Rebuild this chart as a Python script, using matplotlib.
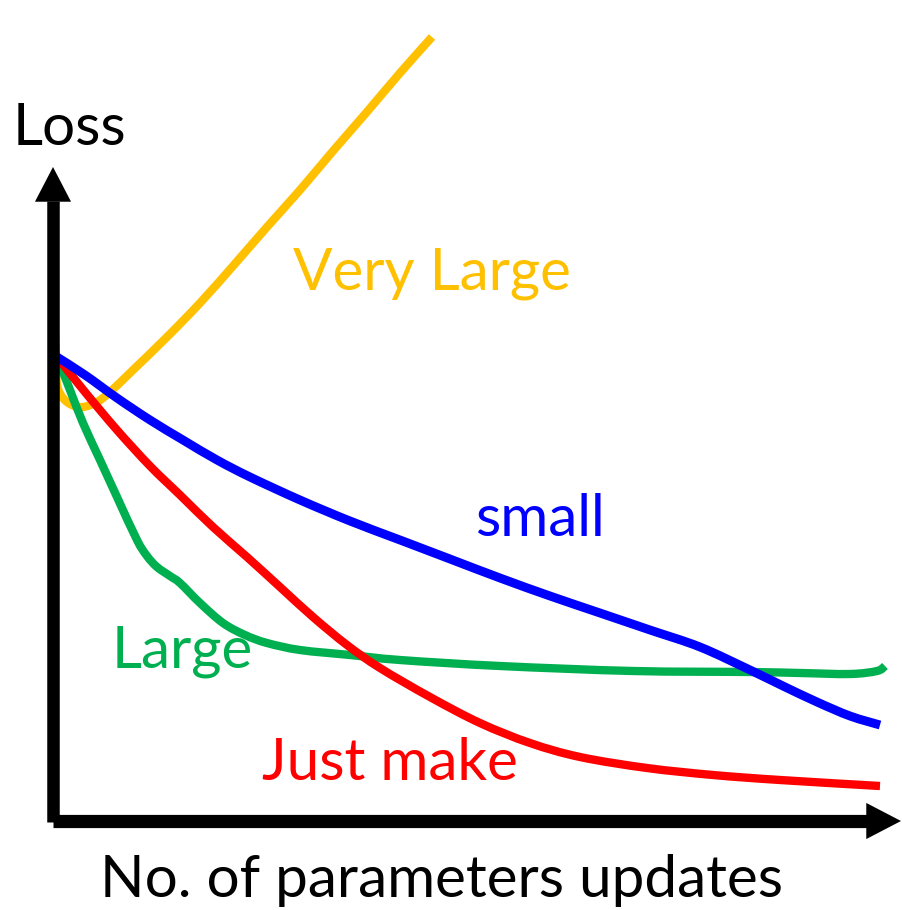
"""
Hand-drawn style sketch: loss vs. number of parameter updates
for different learning rates.
"""

import matplotlib
matplotlib.use("Agg")
import matplotlib.pyplot as plt
from matplotlib.path import Path
from matplotlib.patches import PathPatch

# Curves (x = updates, y = loss, arbitrary units)
very_large_x = [2, 3, 4, 10, 19, 30, 44, 57, 80, 114, 147, 180, 214, 247, 280, 313, 347, 379]
very_large_y = [488, 461, 436, 423, 416, 414, 419, 429, 451, 484, 518, 555, 594, 631, 670, 708, 748, 784]

small_x = [4, 32, 64, 97, 130, 164, 197, 247, 297, 347, 397, 447, 497, 547, 597, 647, 697, 730, 764, 797, 827]
small_y = [464, 446, 423, 401, 381, 361, 344, 321, 300, 281, 262, 243, 225, 208, 191, 174, 151, 135, 119, 105, 96]

just_x = [4, 32, 64, 97, 127, 160, 194, 227, 260, 294, 327, 377, 427, 477, 527, 594, 660, 727, 827]
just_y = [464, 429, 391, 355, 326, 294, 264, 234, 204, 176, 153, 124, 98, 78, 64, 53, 46, 41, 35]

large_x = [4, 17, 30, 47, 64, 84, 94, 104, 117, 127, 147, 170, 192, 214, 247, 297, 347, 447, 580, 697, 747, 797, 824, 832]
large_y = [464, 431, 398, 361, 324, 281, 265, 254, 245, 238, 218, 198, 186, 178, 171, 166, 161, 155, 150, 149, 148, 147, 150, 155]

YELLOW = "#FFC000"
BLUE = "#0000FF"
RED = "#FF0000"
GREEN = "#00B050"

W, H = 903, 910
OX, OY = 53, 821  # pixel position of the origin


def smooth_path(xs, ys):
    """Bezier path through every point (Catmull-Rom tangents)."""
    pts = list(zip(xs, ys))
    verts = [pts[0]]
    codes = [Path.MOVETO]
    for i in range(len(pts) - 1):
        p0 = pts[max(i - 1, 0)]
        p1 = pts[i]
        p2 = pts[i + 1]
        p3 = pts[min(i + 2, len(pts) - 1)]
        c1 = (p1[0] + (p2[0] - p0[0]) / 6, p1[1] + (p2[1] - p0[1]) / 6)
        c2 = (p2[0] - (p3[0] - p1[0]) / 6, p2[1] - (p3[1] - p1[1]) / 6)
        verts += [c1, c2, p2]
        codes += [Path.CURVE4] * 3
    return Path(verts, codes)


plt.rcParams["font.family"] = ["Lato", "DejaVu Sans"]

fig = plt.figure(figsize=(W / 100, H / 100), dpi=100)
ax = fig.add_axes([OX / W, (H - OY) / H, (W - OX) / W, OY / H])
ax.set_xlim(0, W - OX)
ax.set_ylim(0, OY)
ax.axis("off")

# axes with arrow heads
ax.plot([0, 0], [-1, 620], color="black", lw=9, solid_capstyle="butt", clip_on=False)
ax.plot([0, 821], [0, 0], color="black", lw=9.5, solid_capstyle="butt", clip_on=False)
head = dict(arrowstyle="-|>,head_length=1.25,head_width=0.65", lw=0,
            color="black", mutation_scale=20, shrinkA=0, shrinkB=0)
ax.annotate("", xy=(0, 654), xytext=(0, 600), arrowprops=head, annotation_clip=False)
ax.annotate("", xy=(848, 0), xytext=(800, 0), arrowprops=head, annotation_clip=False)

for xs, ys, c, lw in [(very_large_x, very_large_y, YELLOW, 6),
                      (large_x, large_y, GREEN, 6),
                      (just_x, just_y, RED, 6),
                      (small_x, small_y, BLUE, 6.4)]:
    ax.add_patch(PathPatch(smooth_path(xs, ys), facecolor="none", edgecolor=c,
                           lw=lw, joinstyle="round", capstyle="butt", clip_on=False))

fs = 42
ax.text(-40, 676, "Loss", fontsize=fs, color="black", ha="left", va="baseline")
ax.text(240, 532, "Very Large", fontsize=fs, color=YELLOW, ha="left", va="baseline")
ax.text(422, 285, "small", fontsize=fs, color=BLUE, ha="left", va="baseline")
ax.text(59, 153, "Large", fontsize=fs, color=GREEN, ha="left", va="baseline")
ax.text(209, 41, "Just make", fontsize=fs, color=RED, ha="left", va="baseline")
ax.text(47, -76, "No. of parameters updates", fontsize=fs, color="black",
        ha="left", va="baseline")

fig.savefig("out.png", dpi=100)
